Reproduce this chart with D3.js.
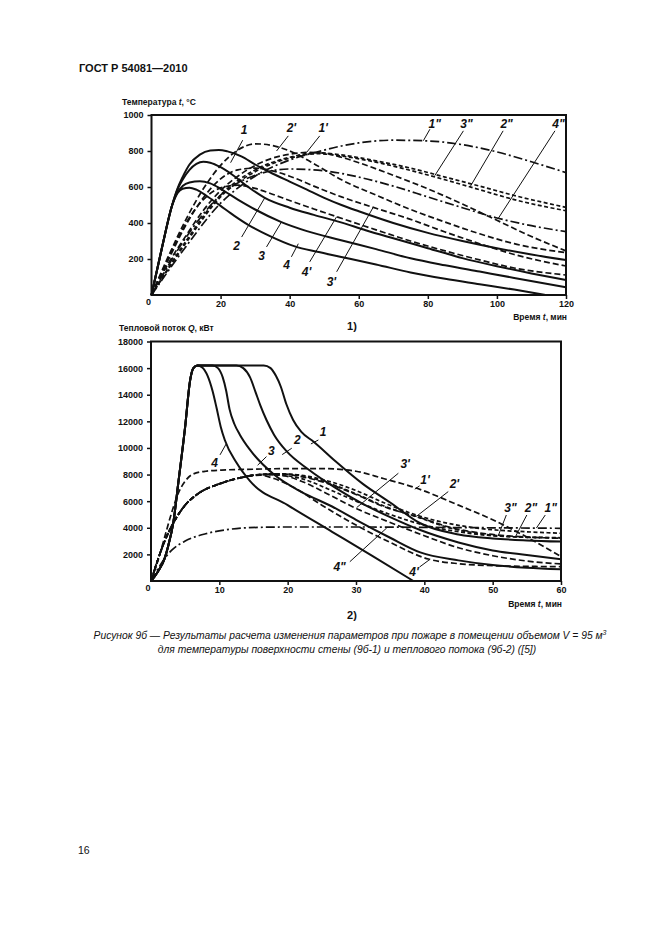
<!DOCTYPE html>
<html>
<head>
<meta charset="utf-8">
<script src="https://cdn.jsdelivr.net/npm/d3@7"></script>
<style>
  body { margin: 0; background: #fff; }
  svg { display: block; font-family: "Liberation Sans", Arial, sans-serif; }
</style>
</head>
<body>
<div id="page"></div>
<script>
// ---- chart 1: wall surface temperature, t (min) -> T (°C)
const tempTicksX = [20, 40, 60, 80, 100, 120];
const tempTicksY = [200, 400, 600, 800, 1000];

const temp1 = [[0,0],[3,260],[6,500],[7.5,590],[9,655],[11,725],[14,780],[17,803],[19.5,806],[22,798],[26,770],[30,725],[35,675],[40,630],[45,585],[50,540],[55,500],[60,465],[70,400],[80,345],[90,300],[100,260],[110,225],[120,194]];
const temp2 = [[0,0],[3,260],[6,500],[7.5,585],[9,640],[11,695],[13,728],[15,740],[17,735],[20,710],[24,660],[28,600],[32.8,540],[40,485],[47,445],[54.6,405],[62,360],[70,315],[80,260],[90,205],[100,160],[110,120],[120,83]];
const temp3 = [[0,0],[3,260],[6,500],[7.5,570],[9,605],[11,625],[14,632],[17,620],[20,590],[25,530],[30,475],[37.6,405],[45,355],[54.6,306],[65,255],[75,204],[85,165],[95,130],[105,95],[120,43]];
const temp4 = [[0,0],[3,260],[6,500],[7.5,565],[9,590],[11,596],[13,585],[16,550],[20,495],[24,440],[28,390],[34,330],[41.5,270],[48,240],[54.6,213],[65,170],[75,125],[85,90],[95,60],[105,30],[114,0]];
const temp1p = [[0,0],[5,180],[10,330],[15,470],[20,580],[25,660],[30,720],[35,760],[40,782],[45,792],[50,788],[55,765],[60,735],[70,665],[80,590],[90,505],[100,415],[110,325],[120,245]];
const temp2p = [[0,0],[5,220],[10,420],[15,590],[20,720],[25,805],[30,840],[35,830],[40,800],[47,730],[55,640],[65,555],[75,475],[85,405],[95,340],[105,285],[120,235]];
const temp3p = [[0,0],[5,200],[10,390],[15,540],[20,645],[25,695],[30,705],[35,690],[40,660],[47,605],[55,545],[64,488],[75,420],[85,350],[95,285],[105,225],[120,161]];
const temp4p = [[0,0],[5,210],[10,400],[15,530],[20,595],[25,610],[30,592],[35,560],[40,525],[47,478],[53.6,435],[65,362],[75,300],[85,245],[95,195],[105,150],[120,111]];
const temp1pp = [[0,0],[10,270],[20,510],[30,660],[40,750],[50,805],[55,828],[60,845],[70,860],[80,856],[90,835],[100,795],[110,740],[120,680]];
const temp2pp = [[0,0],[10,290],[20,545],[30,685],[40,760],[48,785],[55,772],[65,738],[75,692],[85,640],[95,585],[105,530],[120,468]];
const temp3pp = [[0,0],[10,300],[20,555],[30,695],[40,765],[48,790],[55,778],[65,745],[75,705],[85,655],[95,605],[105,553],[120,487]];
const temp4pp = [[0,0],[10,320],[20,555],[30,665],[40,700],[50,690],[60,655],[70,605],[80,545],[90,485],[100,428],[110,385],[120,352]];

// ---- chart 2: heat flux, t (min) -> Q (kW)
const fluxTicksX = [10, 20, 30, 40, 50, 60];
const fluxTicksY = [2000, 4000, 6000, 8000, 10000, 12000, 14000, 16000, 18000];

const flux1 = [[0,0],[1,700],[2,1700],[2.5,2600],[3.3,4500],[4,7400],[5,11600],[5.7,15000],[6.2,16000],[6.8,16200],[10,16200],[14,16200],[16.5,16200],[17.5,16000],[18.3,15400],[19,14600],[19.8,13300],[20.8,12100],[22,11200],[23.8,10470],[27,9000],[31,7300],[35,5900],[39.4,4340],[45,3500],[50,3200],[55,3050],[60,2960]];
const flux2 = [[0,0],[1,700],[2,1700],[2.5,2600],[3.3,4500],[4,7400],[5,11600],[5.7,15000],[6.2,16000],[6.8,16200],[10,16200],[12.5,16200],[13.5,16000],[14.5,15300],[15.3,14200],[16,13200],[16.9,12100],[18,11000],[19.9,9720],[23,8400],[27,7000],[31,5800],[35,4800],[39.4,3830],[45,2900],[50,2300],[55,1950],[60,1630]];
const flux3 = [[0,0],[1,700],[2,1700],[2.5,2600],[3.3,4500],[4,7400],[5,11600],[5.7,15000],[6.2,16000],[6.8,16200],[9,16200],[9.8,16000],[10.5,15300],[11,14300],[11.5,12900],[12.2,11800],[13,11000],[14.5,9850],[18,8000],[22,6700],[26.5,5600],[30,4600],[35,3250],[39.4,2150],[45,1550],[50,1200],[55,1000],[60,880]];
const flux4 = [[0,0],[1,700],[2,1700],[2.5,2600],[3.3,4500],[4,7400],[5,11600],[5.7,15000],[6.2,16000],[6.8,16200],[7.5,16050],[8.3,15400],[9,14300],[9.6,13000],[10.2,11600],[10.8,10600],[12.5,8900],[14.5,7500],[20,5700],[26.5,3700],[32.5,1850],[38.4,0]];
const flux1p = [[0,0],[1,1500],[2,3300],[3,5100],[4,6600],[5,7500],[6,8000],[8,8250],[11,8350],[15,8400],[20,8450],[25,8450],[30,8250],[34,7700],[38.9,6970],[45,5700],[50,4600],[55,3300],[60,1830]];
const flux2p = [[0,0],[1,1600],[2,3000],[3,4100],[4,5000],[5,5700],[7,6600],[10,7300],[13,7750],[16,8000],[19,8050],[22,7850],[26,7300],[30,6500],[34,5600],[39,4830],[44,4000],[49,3550],[54,3330],[60,3210]];
const flux3p = [[0,0],[1,1600],[2,3000],[3,4100],[4,5000],[5,5700],[7,6600],[10,7300],[13,7750],[16,8000],[19,7950],[22,7500],[26,6500],[30,5460],[35,4400],[40,3400],[45,2500],[50,1900],[55,1500],[60,1280]];
const flux4p = [[0,0],[1,1600],[2,3000],[3,4100],[4,5000],[5,5700],[7,6600],[10,7300],[13,7750],[16,7950],[18,7700],[21,7000],[25,5700],[30,4200],[35,2900],[40.6,1650],[45,1300],[50,1150],[55,1100],[60,1080]];
const flux1pp = [[0,0],[1,1600],[2,3000],[3,4100],[4,5000],[5,5700],[7,6600],[10,7300],[13,7750],[16,8000],[19,8050],[22,7950],[26,7500],[30,6800],[34,5900],[38,5100],[42,4500],[46,4100],[50,3850],[55,3700],[60,3585]];
const flux2pp = [[0,0],[1,1600],[2,3000],[3,4100],[4,5000],[5,5700],[7,6600],[10,7300],[13,7750],[16,8000],[19,8050],[22,7900],[26,7350],[30,6550],[34,5650],[39,4800],[44,3950],[49,3500],[54,3300],[60,3240]];
const flux3pp = [[0,0],[1,1600],[2,3000],[3,4100],[4,5000],[5,5700],[7,6600],[10,7300],[13,7750],[16,8000],[19,7950],[22,7700],[26,6900],[30,6000],[35,5000],[40,4200],[45,3700],[50,3400],[55,3300],[60,3250]];
const flux4pp = [[0,0],[1,900],[2,1700],[3,2300],[5,3000],[8,3550],[11,3850],[14,4000],[20,4060],[30,4060],[40,4030],[50,4000],[60,3960]];

// curve label annotations: text, text t/value, leader from, leader to (data units)
const tempLabels = [
  ["1", 26.8, 915, 26.4, 860, 22.9, 735],
  ["2'", 40.5, 930, 39.6, 884, 36.2, 800],
  ["1'", 49.7, 930, 48.7, 884, 44.9, 792],
  ["1\"", 82, 948, 80.6, 921, 78.7, 857],
  ["3\"", 91.2, 948, 90.3, 912, 82, 663],
  ["2\"", 102.8, 948, 101.8, 912, 92.2, 600],
  ["4\"", 117.8, 948, 116.8, 912, 100.4, 426],
  ["2", 24.6, 272, 26.1, 322, 32.8, 540],
  ["3", 31.9, 215, 33.3, 267, 37.6, 405],
  ["4", 39.1, 168, 40.5, 212, 42.5, 285],
  ["4'", 44.9, 130, 45.8, 184, 53.6, 435],
  ["3'", 52.1, 75, 53.6, 129, 64.2, 488]
];
const fluxLabels = [
  ["1", 25.2, 11200, 24.5, 10600, 23.4, 10300],
  ["2", 21.4, 10600, 20.6, 9980, 19.2, 9500],
  ["3", 17.6, 9800, 16.9, 9350, 15.6, 8700],
  ["4", 9.3, 8900, 10.1, 9480, 11.0, 10300],
  ["3'", 37.2, 8800, 36.2, 8100, 30.1, 5520],
  ["1'", 40.1, 7600, 39.3, 7150, 38.6, 6900],
  ["2'", 44.4, 7300, 43.5, 6720, 38.9, 4880],
  ["3\"", 52.6, 5500, 52, 4960, 50.8, 3380],
  ["2\"", 55.6, 5500, 55, 4960, 53.3, 3300],
  ["1\"", 58.5, 5500, 57.7, 4960, 56.4, 3980],
  ["4\"", 27.6, 1050, 29.1, 1450, 34.5, 3990],
  ["4'", 38.5, 650, 39.3, 1050, 40.8, 1620]
];

const W = 661, H = 935;
const ink = "#111";
const dashes = { solid: null, dash: "6,3", dash2: "4,2.5", dashdot: "9,3,2,3" };

const svg = d3.select("#page").append("svg")
  .attr("width", W)
  .attr("height", H);

function drawChart(cfg) {
  const x = d3.scaleLinear().domain([0, cfg.xMax]).range([cfg.left, cfg.right]);
  const y = d3.scaleLinear().domain([0, cfg.yMax]).range([cfg.bottom, cfg.top]);
  const g = svg.append("g");

  const xAxis = g.append("g")
    .attr("transform", `translate(0,${cfg.bottom})`)
    .call(d3.axisBottom(x).tickValues(cfg.xTicks).tickSize(4).tickPadding(2).tickFormat(d3.format("d")));
  const yAxis = g.append("g")
    .attr("transform", `translate(${cfg.left},0)`)
    .call(d3.axisLeft(y).tickValues(cfg.yTicks).tickSize(4).tickPadding(4).tickFormat(d3.format("d")));
  [xAxis, yAxis].forEach(a => {
    a.select(".domain").remove();
    a.selectAll("line").attr("stroke", ink).attr("stroke-width", 1.5);
    a.selectAll("text")
      .attr("fill", ink)
      .style("font-family", '"Liberation Sans", Arial, sans-serif')
      .style("font-size", "9px")
      .style("font-weight", "bold");
  });
  // corner zero
  g.append("text").attr("x", cfg.left - 3).attr("y", cfg.bottom + 10)
    .attr("text-anchor", "middle").attr("font-size", 9).attr("font-weight", "bold")
    .attr("fill", ink).text("0");

  const line = d3.line()
    .x(d => x(d[0]))
    .y(d => y(d[1]))
    .curve(d3.curveMonotoneX);

  g.append("g").selectAll("path")
    .data(cfg.series)
    .join("path")
    .attr("d", d => line(d.data))
    .attr("fill", "none")
    .attr("stroke", ink)
    .attr("stroke-width", d => d.style === "solid" ? 2 : 1.7)
    .attr("stroke-dasharray", d => dashes[d.style]);

  // frame
  g.append("rect")
    .attr("x", cfg.left).attr("y", cfg.top)
    .attr("width", cfg.right - cfg.left).attr("height", cfg.bottom - cfg.top)
    .attr("fill", "none").attr("stroke", ink).attr("stroke-width", 2);

  // leaders + labels
  const lab = g.append("g");
  lab.selectAll("line")
    .data(cfg.labels)
    .join("line")
    .attr("x1", d => x(d[3])).attr("y1", d => y(d[4]))
    .attr("x2", d => x(d[5])).attr("y2", d => y(d[6]))
    .attr("stroke", ink).attr("stroke-width", 1);
  lab.selectAll("text")
    .data(cfg.labels)
    .join("text")
    .attr("x", d => x(d[1])).attr("y", d => y(d[2]))
    .attr("text-anchor", "middle")
    .attr("dominant-baseline", "central")
    .attr("font-size", 12)
    .attr("font-weight", "bold")
    .attr("font-style", "italic")
    .attr("fill", ink)
    .text(d => d[0]);

  // titles
  const yt = g.append("text").attr("x", cfg.yTitleX).attr("y", cfg.yTitleY)
    .attr("font-size", 8.5).attr("font-weight", "bold").attr("fill", ink);
  yt.append("tspan").text(cfg.yTitle[0]);
  yt.append("tspan").attr("font-style", "italic").text(cfg.yTitle[1]);
  yt.append("tspan").text(cfg.yTitle[2]);

  const xt = g.append("text").attr("x", cfg.right + 1).attr("y", cfg.xTitleY)
    .attr("text-anchor", "end")
    .attr("font-size", 8.5).attr("font-weight", "bold").attr("fill", ink);
  xt.append("tspan").text("Время ");
  xt.append("tspan").attr("font-style", "italic").text("t");
  xt.append("tspan").text(", мин");

  g.append("text").attr("x", 352).attr("y", cfg.numY)
    .attr("text-anchor", "middle").attr("font-size", 11).attr("font-weight", "bold")
    .attr("fill", ink).text(cfg.num);
}

drawChart({
  xMax: 120, yMax: 1000,
  left: 151.5, right: 566, top: 115, bottom: 295,
  xTicks: tempTicksX, yTicks: tempTicksY,
  series: [
    { data: temp1, style: "solid" }, { data: temp2, style: "solid" },
    { data: temp3, style: "solid" }, { data: temp4, style: "solid" },
    { data: temp1p, style: "dash" }, { data: temp2p, style: "dash" },
    { data: temp3p, style: "dash" }, { data: temp4p, style: "dash" },
    { data: temp1pp, style: "dashdot" }, { data: temp2pp, style: "dash2" },
    { data: temp3pp, style: "dash2" }, { data: temp4pp, style: "dashdot" }
  ],
  labels: tempLabels,
  yTitle: ["Температура ", "t", ", °C"], yTitleX: 122, yTitleY: 105,
  xTitleY: 320, num: "1)", numY: 330
});

drawChart({
  xMax: 60, yMax: 18000,
  left: 151, right: 561, top: 341.5, bottom: 581,
  xTicks: fluxTicksX, yTicks: fluxTicksY,
  series: [
    { data: flux1, style: "solid" }, { data: flux2, style: "solid" },
    { data: flux3, style: "solid" }, { data: flux4, style: "solid" },
    { data: flux1p, style: "dash" }, { data: flux2p, style: "dash" },
    { data: flux3p, style: "dash" }, { data: flux4p, style: "dash" },
    { data: flux1pp, style: "dash2" }, { data: flux2pp, style: "dash2" },
    { data: flux3pp, style: "dash2" }, { data: flux4pp, style: "dashdot" }
  ],
  labels: fluxLabels,
  yTitle: ["Тепловой поток ", "Q", ", кВт"], yTitleX: 119, yTitleY: 331,
  xTitleY: 607, num: "2)", numY: 619
});

// page header, caption, page number
svg.append("text").attr("x", 79).attr("y", 72)
  .attr("font-size", 11).attr("font-weight", "bold").attr("fill", ink)
  .text("ГОСТ Р 54081—2010");

const cap1 = svg.append("text").attr("x", 350).attr("y", 639)
  .attr("text-anchor", "middle").attr("font-size", 10.3).attr("font-style", "italic").attr("fill", ink);
cap1.append("tspan").text("Рисунок 9б — Результаты расчета изменения параметров при пожаре в помещении объемом V = 95 м");
cap1.append("tspan").attr("font-size", 7).attr("dy", -4).text("3");

svg.append("text").attr("x", 347).attr("y", 653)
  .attr("text-anchor", "middle").attr("font-size", 10.3).attr("font-style", "italic").attr("fill", ink)
  .text("для температуры поверхности стены (9б-1) и теплового потока (9б-2) ([5])");

svg.append("text").attr("x", 78).attr("y", 854)
  .attr("font-size", 10.5).attr("fill", ink).text("16");
</script>
</body>
</html>
